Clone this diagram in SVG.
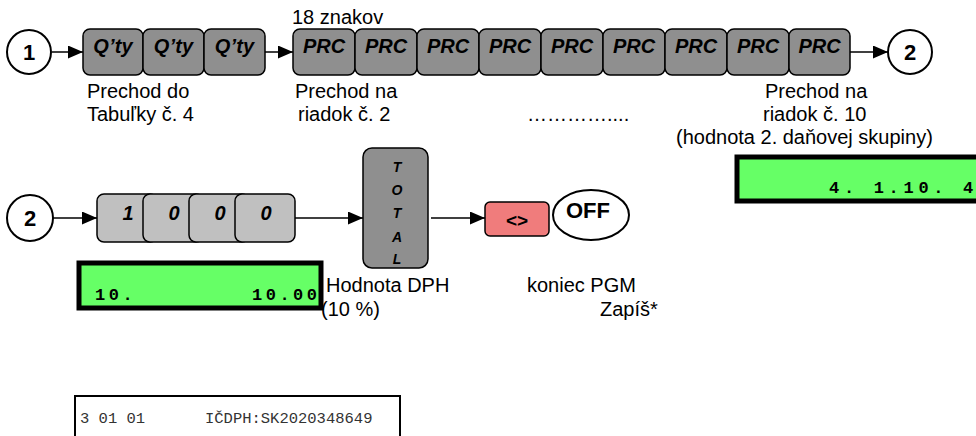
<svg xmlns="http://www.w3.org/2000/svg" width="976" height="436" viewBox="0 0 976 436">
<style>
.lbl{font-family:"Liberation Sans",Arial,sans-serif;font-size:20px;fill:#000}
.key{fill:#8f8f8f;stroke:#000;stroke-width:1.5}
.lkey{fill:#c0c0c0;stroke:#000;stroke-width:1.5}
.kt{font-family:"Liberation Sans",Arial,sans-serif;font-size:20px;font-weight:bold;font-style:italic;fill:#000;text-anchor:middle}
.circ{fill:#fff;stroke:#000;stroke-width:2}
.ct{font-family:"Liberation Sans",Arial,sans-serif;font-size:22px;font-weight:bold;fill:#000;text-anchor:middle}
.lcd{fill:#66ff66;stroke:#000;stroke-width:5}
.lt{font-family:"Liberation Mono","Courier New",monospace;font-size:17px;font-weight:bold;fill:#000}
.con{stroke:#000;stroke-width:1.5;fill:none}
.rt{font-family:"Liberation Mono","Courier New",monospace;font-size:15.5px;fill:#333}
</style>
<defs>
<marker id="ah" markerWidth="15" markerHeight="13" refX="15" refY="6.5" orient="auto" markerUnits="userSpaceOnUse">
<path d="M0,0 L15,6.5 L0,13 Z" fill="#000"/>
</marker>
</defs>

<g id="connectors">
<line class="con" x1="52" y1="52" x2="83" y2="52" marker-end="url(#ah)"/>
<line class="con" x1="265" y1="52" x2="293" y2="52" marker-end="url(#ah)"/>
<line class="con" x1="850" y1="52" x2="888" y2="52" marker-end="url(#ah)"/>
<line class="con" x1="53" y1="218" x2="97" y2="218" marker-end="url(#ah)"/>
<line class="con" x1="295" y1="218" x2="363" y2="218" marker-end="url(#ah)"/>
<line class="con" x1="431" y1="218" x2="485" y2="218" marker-end="url(#ah)"/>
</g>

<g id="start1">
<circle class="circ" cx="29" cy="52" r="22"/>
<text class="ct" x="29" y="60">1</text>
</g>

<g id="qty-keys">
<rect class="key" x="83" y="29" width="60" height="46" rx="7"/>
<text class="kt" x="113" y="53">Q’ty</text>
<rect class="key" x="143" y="29" width="61" height="46" rx="7"/>
<text class="kt" x="173.5" y="53">Q’ty</text>
<rect class="key" x="204" y="29" width="61" height="46" rx="7"/>
<text class="kt" x="234.5" y="53">Q’ty</text>
</g>

<g id="prc-keys">
<rect class="key" x="293" y="29" width="62" height="46" rx="7"/>
<text class="kt" x="324" y="53">PRC</text>
<rect class="key" x="355" y="29" width="62" height="46" rx="7"/>
<text class="kt" x="386" y="53">PRC</text>
<rect class="key" x="417" y="29" width="62" height="46" rx="7"/>
<text class="kt" x="448" y="53">PRC</text>
<rect class="key" x="479" y="29" width="62" height="46" rx="7"/>
<text class="kt" x="510" y="53">PRC</text>
<rect class="key" x="541" y="29" width="62" height="46" rx="7"/>
<text class="kt" x="572" y="53">PRC</text>
<rect class="key" x="603" y="29" width="62" height="46" rx="7"/>
<text class="kt" x="634" y="53">PRC</text>
<rect class="key" x="665" y="29" width="62" height="46" rx="7"/>
<text class="kt" x="696" y="53">PRC</text>
<rect class="key" x="727" y="29" width="62" height="46" rx="7"/>
<text class="kt" x="758" y="53">PRC</text>
<rect class="key" x="789" y="29" width="61" height="46" rx="7"/>
<text class="kt" x="819.5" y="53">PRC</text>
</g>

<g id="end2">
<circle class="circ" cx="910" cy="52" r="22"/>
<text class="ct" x="910" y="60">2</text>
</g>

<g id="top-labels">
<text class="lbl" x="292" y="24">18 znakov</text>
<text class="lbl" x="87" y="98">Prechod do</text>
<text class="lbl" x="87" y="121">Tabuľky č. 4</text>
<text class="lbl" x="295" y="98">Prechod na</text>
<text class="lbl" x="298" y="121">riadok č. 2</text>
<text class="lbl" x="527" y="121">…………....</text>
<text class="lbl" x="765" y="98">Prechod na</text>
<text class="lbl" x="763" y="121">riadok č. 10</text>
<text class="lbl" x="676" y="144">(hodnota 2. daňovej skupiny)</text>
</g>

<g id="lcd-right">
<rect class="lcd" x="737" y="157" width="245" height="44"/>
<text class="lt" x="829" y="193" style="letter-spacing:4.7px" xml:space="preserve">4. 1.10. 4</text>
</g>

<g id="start2">
<circle class="circ" cx="30" cy="218" r="23"/>
<text class="ct" x="30" y="226">2</text>
</g>

<g id="num-keys">
<rect class="lkey" x="97" y="194" width="60" height="48" rx="7"/>
<text class="kt" x="128" y="220">1</text>
<rect class="lkey" x="143" y="194" width="60" height="48" rx="7"/>
<text class="kt" x="174" y="220">0</text>
<rect class="lkey" x="189" y="194" width="60" height="48" rx="7"/>
<text class="kt" x="220" y="220">0</text>
<rect class="lkey" x="235" y="194" width="60" height="48" rx="7"/>
<text class="kt" x="266" y="220">0</text>
</g>

<g id="total-key">
<rect class="key" x="363" y="148" width="65" height="120" rx="9"/>
<text class="kt" x="397" y="172" style="font-size:14px">T</text>
<text class="kt" x="397" y="195" style="font-size:14px">O</text>
<text class="kt" x="397" y="218" style="font-size:14px">T</text>
<text class="kt" x="397" y="242" style="font-size:14px">A</text>
<text class="kt" x="397" y="264" style="font-size:14px">L</text>
</g>

<g id="diff-key">
<rect x="485" y="202" width="64" height="34" rx="5" fill="#f07c7c" stroke="#000" stroke-width="1.5"/>
<text class="kt" x="517" y="227" style="font-size:19px;font-style:normal">&lt;&gt;</text>
</g>

<g id="off">
<ellipse class="circ" cx="591" cy="215" rx="38" ry="25"/>
<text class="ct" x="588" y="218">OFF</text>
</g>

<g id="lcd-left">
<rect class="lcd" x="79" y="263" width="242" height="45"/>
<text class="lt" x="95" y="300" style="letter-spacing:3.5px">10.</text>
<text class="lt" x="252" y="300" style="letter-spacing:3.5px">10.00</text>
</g>

<g id="bottom-labels">
<text class="lbl" x="326" y="292">Hodnota DPH</text>
<text class="lbl" x="321" y="316">(10 %)</text>
<text class="lbl" x="527" y="292">koniec PGM</text>
<text class="lbl" x="600" y="316">Zapíš*</text>
</g>

<g id="receipt">
<path d="M75,440 V396 H400 V440" fill="none" stroke="#000" stroke-width="2"/>
<text class="rt" x="80" y="423">3 01 01</text>
<text class="rt" x="205" y="423">IČDPH:SK2020348649</text>
</g>
</svg>
